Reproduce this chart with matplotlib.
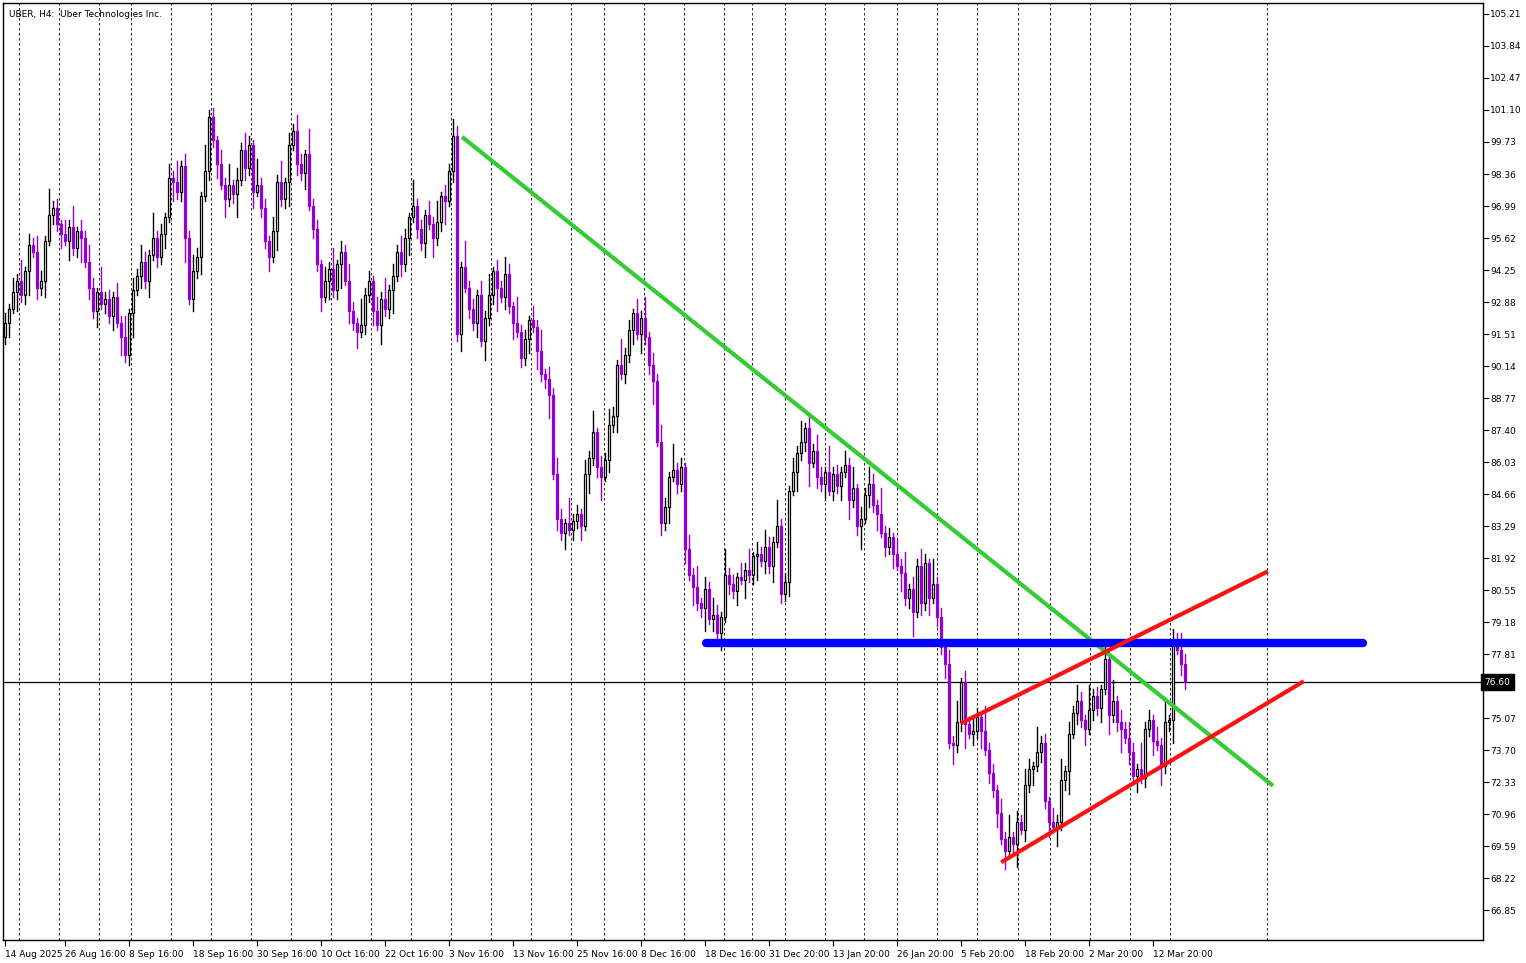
import matplotlib
matplotlib.use("Agg")
import matplotlib.pyplot as plt
import numpy as np

closes = [
92.0, 92.6, 93.3, 93.8, 93.2, 94.2, 95.3, 95.0, 93.5, 93.8,
95.5, 96.6, 96.9, 96.2, 95.8, 95.5, 96.1, 95.2, 95.9, 95.6,
94.6, 93.5, 92.5, 93.3, 92.8, 93.0, 92.3, 93.1, 92.0, 91.4,
90.6, 92.4, 93.4, 94.0, 94.6, 93.8, 94.9, 95.6, 94.8, 95.8,
96.5, 98.2, 98.0, 97.6, 98.7, 95.6, 93.0, 94.2, 94.8, 97.4,
98.5, 100.8, 99.8, 98.8, 97.9, 97.3, 97.9, 97.5, 98.1, 99.4,
98.6, 99.6, 97.6, 97.9, 96.9, 95.5, 94.8, 95.9, 98.0, 97.3,
98.0, 99.6, 100.2, 98.8, 98.4, 99.2, 97.0, 96.0, 94.5, 93.1,
93.8, 94.3, 93.4, 94.5, 95.0, 93.8, 92.5, 92.0, 91.6, 91.9,
93.2, 93.8, 92.5, 91.9, 93.0, 92.6, 93.4, 94.0, 95.0, 94.5,
95.6, 96.5, 97.0, 96.0, 95.4, 96.6, 96.2, 95.6, 96.3, 97.4,
97.2, 98.5, 100.0, 91.5, 94.4, 93.5, 92.6, 92.0, 93.2, 91.2,
92.2, 93.2, 94.2, 93.5, 93.1, 94.1, 92.7, 92.0, 91.6, 90.5,
91.3, 92.1, 91.8, 90.8, 89.8, 89.6, 88.9, 85.5, 83.6, 83.0,
83.4, 83.1, 83.5, 83.8, 83.3, 85.5, 86.2, 87.3, 85.8, 85.4,
86.1, 87.6, 88.0, 90.2, 89.8, 90.6, 91.7, 92.4, 91.5, 92.2,
91.4, 90.2, 89.5, 86.9, 83.4, 84.1, 85.4, 85.7, 85.1, 85.8,
82.3, 81.2, 80.7, 80.0, 79.8, 80.6, 79.3, 79.5, 78.7, 79.4,
81.2, 80.8, 80.5, 81.1, 81.0, 81.4, 81.2, 82.0, 82.1, 81.8,
82.4, 81.6, 82.6, 83.3, 80.4, 80.9, 84.8, 85.6, 86.4, 86.9,
87.5, 86.0, 86.5, 85.4, 85.1, 85.6, 84.8, 85.5, 85.0, 85.6,
85.9, 84.4, 84.9, 83.3, 83.6, 84.6, 85.1, 84.2, 83.8, 83.0,
82.4, 82.8, 82.1, 81.6, 81.3, 80.2, 80.6, 79.6, 81.6, 80.0,
81.7, 80.2, 80.8, 79.4, 78.1, 77.4, 74.0, 73.9, 74.9, 76.6,
74.8, 74.4, 74.5, 75.1, 74.5, 73.7, 72.7, 72.0, 71.0, 69.9,
69.4, 70.0, 69.7, 70.6, 70.3, 72.2, 72.9, 73.0, 73.6, 74.0,
71.5, 70.6, 70.4, 70.6, 72.4, 72.8, 74.4, 75.3, 75.8, 75.0,
74.6, 75.4, 76.0, 75.5, 76.3, 77.6, 75.2, 75.8, 74.9, 74.6,
74.2, 73.6, 72.6, 72.9, 72.5, 74.6, 75.0, 74.1, 73.9, 73.0,
74.9, 75.0, 78.4, 78.0, 77.4, 76.6]
first_open = 91.4
wick_up = [0.4, 0.2, 0.6, 0.3, 0.9, 0.2, 0.5, 0.3, 0.7, 0.4, 0.2, 1.1, 0.3]
wick_dn = [0.3, 0.6, 0.2, 0.8, 0.3, 0.4, 1.0, 0.2, 0.5, 0.3, 0.7, 0.2, 0.4]

yticks = [105.21, 103.84, 102.47, 101.10, 99.73, 98.36, 96.99, 95.62, 94.25, 92.88,
          91.51, 90.14, 88.77, 87.40, 86.03, 84.66, 83.29, 81.92, 80.55, 79.18,
          77.81, 76.44, 75.07, 73.70, 72.33, 70.96, 69.59, 68.22, 66.85]
xtick_idx = [0, 15, 31, 47, 63, 79, 95, 111, 127, 143, 159, 175, 191, 207, 223, 239, 255, 271, 287]
xtick_labels = ["14 Aug 2025", "26 Aug 16:00", "8 Sep 16:00", "18 Sep 16:00", "30 Sep 16:00",
                "10 Oct 16:00", "22 Oct 16:00", "3 Nov 16:00", "13 Nov 16:00", "25 Nov 16:00",
                "8 Dec 16:00", "18 Dec 16:00", "31 Dec 20:00", "13 Jan 20:00", "26 Jan 20:00",
                "5 Feb 20:00", "18 Feb 20:00", "2 Mar 20:00", "12 Mar 20:00"]
week_sep = [3.5, 13.5, 23.5, 31.5, 41.5, 51.5, 61.5, 71.5, 81.5, 91.5, 101.5, 111.5, 121.5,
            131.5, 141.5, 149.75, 159.75, 169.75, 179.75, 186.75, 195, 205, 214.75, 223,
            233, 243, 253.25, 261.25, 271.25, 281.25, 291.25, 315.5]
green_line = ([114.25, 317.0], [99.95, 72.17])
blue_line = ([175.25, 339.5], [78.28, 78.28])
red_upper = ([239.5, 315.25], [74.89, 81.31])
red_lower = ([249.5, 324.25], [68.94, 76.60])
last_price = 76.60

PURPLE = "#9400D3"
fig = plt.figure(figsize=(15.26, 9.63), dpi=100)
ax = fig.add_axes([3/1526, 23/963, 1480/1526, 937/963])
ax.set_xlim(-0.5, 369.5)
ax.set_ylim(65.57, 105.68)

for g in week_sep:
    ax.axvline(g, color="black", lw=0.6, ls=(0, (3, 3)), zorder=0)

opens = [first_open] + closes[:-1]
for i, (o, c) in enumerate(zip(opens, closes)):
    hi = max(o, c) + wick_up[i % len(wick_up)]
    lo = min(o, c) - wick_dn[i % len(wick_dn)]
    bull = c >= o
    col = "black" if bull else PURPLE
    ax.plot([i, i], [lo, hi], color=col, lw=1.0, zorder=2)
    ax.bar(i, max(abs(c - o), 0.05), bottom=min(o, c), width=0.6,
           facecolor="white" if bull else PURPLE, edgecolor=col, lw=0.9, zorder=3)

ax.plot(*green_line, color="#33CC33", lw=3, zorder=4, solid_capstyle="butt")
ax.plot(*blue_line, color="#0000FF", lw=6, zorder=4, solid_capstyle="round")
ax.plot(*red_upper, color="#FF1111", lw=3, zorder=4)
ax.plot(*red_lower, color="#FF1111", lw=3, zorder=4)
ax.axhline(last_price, color="black", lw=0.9, zorder=1)

ax.yaxis.tick_right()
ax.set_yticks(yticks)
ax.set_yticklabels([f"{v:.2f}" for v in yticks], fontsize=6.5)
ax.tick_params(axis="y", direction="out", length=4, pad=1)
ax.set_xticks(xtick_idx)
ax.set_xticklabels(xtick_labels, fontsize=6.5, ha="left")
ax.tick_params(axis="x", direction="out", length=4, pad=3)
ax.text(1.001, (last_price - 65.57) / (105.68 - 65.57), f"{last_price:.2f}", transform=ax.transAxes,
        fontsize=6.5, color="white", va="center", ha="left",
        bbox=dict(facecolor="black", edgecolor="black", pad=2.5), zorder=10, clip_on=False)
ax.text(0.004, 0.993, "UBER, H4:  Uber Technologies Inc.", transform=ax.transAxes,
        fontsize=6.5, va="top", ha="left")
for s in ax.spines.values():
    s.set_linewidth(1)
fig.savefig("out.png", dpi=100)
